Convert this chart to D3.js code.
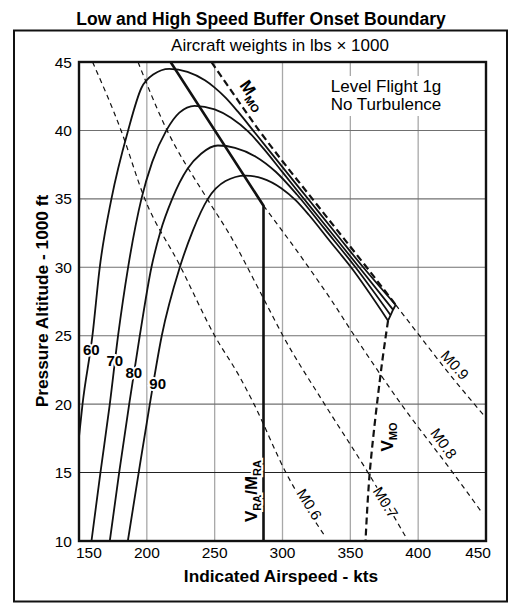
<!DOCTYPE html>
<html>
<head>
<meta charset="utf-8">
<script src="https://cdn.jsdelivr.net/npm/d3@7/dist/d3.min.js"></script>
<style>
  body { margin: 0; background: #fff; }
  svg { display: block; font-family: "Liberation Sans", Arial, Helvetica, sans-serif; }
</style>
</head>
<body>
<div class="chart"></div>
<script>
// all points are [indicated airspeed kts, pressure altitude 1000 ft]
var w60 = [[150,17.6],[152.6,20],[159.9,25],[165.3,30],[173.9,35],[186.2,40],[196,43.1],[205,44.1],[216.5,44.5],[230,44.28],[242.8,43.66],[250,43.13],[258,42.4],[267,41.39],[280,39.79],[300,37.32],[320,34.86],[340,32.4],[359.5,30],[383.4,27.25]];
var w70 = [[159.2,10],[165.8,15],[172.7,20],[178.8,25],[186.2,30],[196,35],[204,37.7],[214.4,40],[224,41.3],[235.3,41.8],[250,41.54],[262,40.93],[275,39.89],[285.9,38.69],[300,36.95],[320,34.49],[340,32.03],[356.5,30],[381.5,26.9]];
var w80 = [[172.7,10],[179.6,15],[187,20],[194.8,25],[203.4,30],[210,32.6],[218.7,35],[230,37.2],[240,38.3],[252.4,38.9],[265,38.73],[280,38.1],[295,36.98],[310.6,35.32],[330,32.93],[353.8,30],[379.7,26.5]];
var w90 = [[186,10],[194,15],[202.2,20],[211,25],[224.3,30],[234,32.7],[245,35],[258,36.3],[272.6,36.7],[285,36.5],[299.1,35.78],[310,34.87],[319.5,33.82],[335,31.9],[350.5,30],[377.8,26.1]];
var weights = ["60", "70", "80", "90"];

var m06 = [[160,45],[181,40],[198.5,35],[224,30.2],[250,25],[268.4,22],[279,20],[302.5,15],[331,10.4]];
var m07 = [[193.5,45],[213,40.4],[244.5,35],[261,32.4],[285.6,27.8],[300.3,25],[331,20],[363,15],[392,10.1]];
var m08 = [[286,34.5],[300.3,32.6],[324.9,29.2],[336,27.6],[353,25],[387.5,20],[425.5,15],[447.6,12]];
var m09 = [[383.5,27.25],[401,25],[420.6,22.5],[450,19]];
var mmo = [[247.6,45],[265,42.5],[282,40.1],[300,37.75],[320,35.25],[340,32.75],[362,30],[383.5,27.25]];
var vraMra = [[217.5,45],[286,34.5],[286,10]];
var vmo = [[377.8,26.1],[372.7,22.5],[364.3,15],[361.2,10]];

var xTicks = [150, 200, 250, 300, 350, 400, 450];
var yTicks = [10, 15, 20, 25, 30, 35, 40, 45];
var xGrid = [200, 250, 300, 350, 400];
var yGrid = [15, 20, 25, 30, 35, 40];

var W = 527, H = 610;
var plot = {left: 79, top: 62, right: 486, bottom: 541};

var x = d3.scaleLinear().domain([150, 450]).range([plot.left, plot.right]);
var y = d3.scaleLinear().domain([10, 45]).range([plot.bottom, plot.top]);

var svg = d3.select('.chart').append('svg')
    .attr('width', W)
    .attr('height', H);

svg.append('defs').append('clipPath')
    .attr('id', 'clip')
    .append('rect')
    .attr('x', plot.left).attr('y', plot.top)
    .attr('width', plot.right - plot.left)
    .attr('height', plot.bottom - plot.top);

// outer frame
svg.append('rect')
    .attr('x', 14).attr('y', 30.5)
    .attr('width', 493).attr('height', 571)
    .attr('fill', 'none').attr('stroke', '#111').attr('stroke-width', 2);

svg.append('text')
    .attr('x', 261).attr('y', 25)
    .attr('text-anchor', 'middle')
    .attr('font-weight', 'bold')
    .attr('font-size', 17.5)
    .text('Low and High Speed Buffer Onset Boundary');

svg.append('text')
    .attr('x', 280).attr('y', 51)
    .attr('text-anchor', 'middle')
    .attr('font-size', 17)
    .text('Aircraft weights in lbs \u00d7 1000');

// grid
svg.append('g')
    .selectAll('line')
    .data(xGrid)
    .enter().append('line')
    .attr('x1', function (d) { return x(d); })
    .attr('x2', function (d) { return x(d); })
    .attr('y1', plot.top).attr('y2', plot.bottom)
    .attr('stroke', '#a8a8a8').attr('stroke-width', 1.3);

svg.append('g')
    .selectAll('line')
    .data(yGrid)
    .enter().append('line')
    .attr('x1', plot.left).attr('x2', plot.right)
    .attr('y1', function (d) { return y(d); })
    .attr('y2', function (d) { return y(d); })
    .attr('stroke', function (d) { return d === 15 ? '#222' : '#707070'; })
    .attr('stroke-width', 1.1);

var line = d3.line()
    .x(function (d) { return x(d[0]); })
    .y(function (d) { return y(d[1]); });
var smooth = d3.line()
    .x(function (d) { return x(d[0]); })
    .y(function (d) { return y(d[1]); })
    .curve(d3.curveMonotoneX);

var marks = svg.append('g').attr('clip-path', 'url(#clip)');

// mach lines
[m06, m07, m08, m09].forEach(function (m) {
    marks.append('path')
        .attr('d', smooth(m))
        .attr('fill', 'none').attr('stroke', '#111')
        .attr('stroke-width', 1.2)
        .attr('stroke-dasharray', '5,4');
});

marks.append('path')
    .attr('d', smooth(mmo))
    .attr('fill', 'none').attr('stroke', '#111')
    .attr('stroke-width', 2.2)
    .attr('stroke-dasharray', '7,4');

marks.append('path')
    .attr('d', d3.line().x(function (d) { return x(d[0]); })
        .y(function (d) { return y(d[1]); })
        .curve(d3.curveCatmullRom)(vmo))
    .attr('fill', 'none').attr('stroke', '#111')
    .attr('stroke-width', 2.2)
    .attr('stroke-dasharray', '7,4');

// weight curves
var curves = [w60, w70, w80, w90];
curves.forEach(function (c) {
    marks.append('path')
        .attr('d', smooth(c))
        .attr('fill', 'none').attr('stroke', '#111')
        .attr('stroke-width', 1.8);
});
// end cap of the high speed branches
marks.append('path')
    .attr('d', line(curves.map(function (c) { return c[c.length - 1]; })))
    .attr('fill', 'none').attr('stroke', '#111')
    .attr('stroke-width', 1.8);

marks.append('path')
    .attr('d', line(vraMra))
    .attr('fill', 'none').attr('stroke', '#111')
    .attr('stroke-width', 2.6);

// plot border
svg.append('rect')
    .attr('x', plot.left).attr('y', plot.top)
    .attr('width', plot.right - plot.left)
    .attr('height', plot.bottom - plot.top)
    .attr('fill', 'none').attr('stroke', '#111').attr('stroke-width', 2.4);

// ticks
svg.append('g')
    .selectAll('text')
    .data(xTicks)
    .enter().append('text')
    .attr('x', function (d, i) {
        if (i === 0) return x(d) - 3;
        if (i === xTicks.length - 1) return x(d) + 5;
        return x(d);
    })
    .attr('y', 558)
    .attr('text-anchor', function (d, i) {
        if (i === 0) return 'start';
        if (i === xTicks.length - 1) return 'end';
        return 'middle';
    })
    .attr('font-size', 15.5)
    .text(function (d) { return d; });

svg.append('g')
    .selectAll('text')
    .data(yTicks)
    .enter().append('text')
    .attr('x', 72)
    .attr('y', function (d) { return y(d) + 5.5; })
    .attr('text-anchor', 'end')
    .attr('font-size', 15.5)
    .text(function (d) { return d; });

svg.append('text')
    .attr('x', 281).attr('y', 582)
    .attr('text-anchor', 'middle')
    .attr('font-weight', 'bold')
    .attr('font-size', 17.3)
    .text('Indicated Airspeed - kts');

svg.append('text')
    .attr('transform', 'translate(48,301) rotate(-90)')
    .attr('text-anchor', 'middle')
    .attr('font-weight', 'bold')
    .attr('font-size', 17.3)
    .text('Pressure Altitude - 1000 ft');

// notes box
var note = svg.append('g');
note.append('rect')
    .attr('x', 326).attr('y', 76).attr('width', 122).attr('height', 40)
    .attr('fill', '#fff');
note.append('text')
    .attr('x', x(376.3)).attr('y', 92)
    .attr('text-anchor', 'middle').attr('font-size', 17)
    .text('Level Flight 1g');
note.append('text')
    .attr('x', x(376.3)).attr('y', 110)
    .attr('text-anchor', 'middle').attr('font-size', 17)
    .text('No Turbulence');

// weight labels
var labelAt = [[159.1,24.0],[176.4,23.2],[190.4,22.3],[208,21.5]];
svg.append('g')
    .selectAll('text')
    .data(weights)
    .enter().append('text')
    .attr('x', function (d, i) { return x(labelAt[i][0]); })
    .attr('y', function (d, i) { return y(labelAt[i][1]) + 5.5; })
    .attr('text-anchor', 'middle')
    .attr('font-weight', 'bold')
    .attr('font-size', 15)
    .attr('stroke', '#fff').attr('stroke-width', 4)
    .attr('paint-order', 'stroke')
    .text(function (d) { return d; });

// mach labels
var machLabels = [
    {t: 'M0.6', at: [310, 13.5], r: 58},
    {t: 'M0.7', at: [366.1, 13.65], r: 58},
    {t: 'M0.8', at: [408.6, 17.9], r: 55},
    {t: 'M0.9', at: [416, 23.5], r: 48}
];
svg.append('g')
    .selectAll('text')
    .data(machLabels)
    .enter().append('text')
    .attr('transform', function (d) {
        return 'translate(' + x(d.at[0]) + ',' + y(d.at[1]) + ') rotate(' + d.r + ')';
    })
    .attr('font-size', 15)
    .attr('stroke', '#fff').attr('stroke-width', 3)
    .attr('paint-order', 'stroke')
    .text(function (d) { return d.t; });

function subLabel(g, parts) {
    var t = g.append('text')
        .attr('font-weight', 'bold')
        .attr('font-size', 17)
        .attr('stroke', '#fff').attr('stroke-width', 4)
        .attr('paint-order', 'stroke');
    parts.forEach(function (p) {
        t.append('tspan')
            .attr('font-size', p.sub ? 11 : 17)
            .attr('dy', p.dy || 0)
            .text(p.s);
    });
    return t;
}

subLabel(svg.append('g').attr('transform', 'translate(' + x(267.9) + ',' + y(43.3) + ') rotate(55)'),
    [{s: 'M'}, {s: 'MO', sub: true, dy: 4}]);

subLabel(svg.append('g').attr('transform', 'translate(' + x(281.2) + ',' + y(13.65) + ') rotate(-90)'),
    [{s: 'V'}, {s: 'RA', sub: true, dy: 4}, {s: '/M', dy: -4}, {s: 'RA', sub: true, dy: 4}])
    .attr('text-anchor', 'middle');

subLabel(svg.append('g').attr('transform', 'translate(' + x(381.4) + ',' + y(17.6) + ') rotate(-90)'),
    [{s: 'V'}, {s: 'MO', sub: true, dy: 4}])
    .attr('text-anchor', 'middle');
</script>
</body>
</html>
